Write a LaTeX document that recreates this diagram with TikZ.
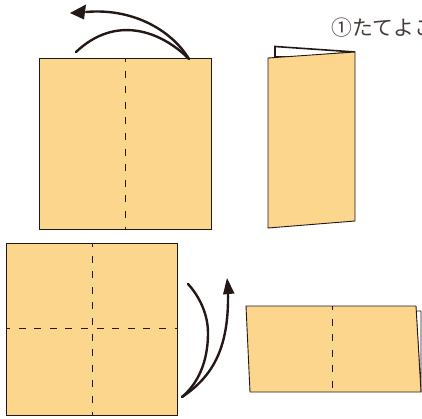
\documentclass[tikz,border=0pt]{standalone}
\usepackage{fontspec}
\newfontfamily\cjk{Noto Sans CJK JP}[Scale=1]
\usetikzlibrary{arrows.meta}
\definecolor{paper}{HTML}{FDD68E}
\definecolor{ink}{HTML}{231815}
\tikzset{
 sheet/.style={draw=ink,fill=paper,line width=0.9pt,line join=miter},
 back/.style={draw=ink,fill=white,line width=1.6pt,line join=miter},
 fold/.style={draw=ink,line width=0.9pt,dash pattern=on 7pt off 8.6pt,dash phase=3pt},
 curve/.style={draw=ink,line width=2.4pt,line cap=round}
}
\begin{document}
\begin{tikzpicture}[x=1pt,y=-1pt]
\useasboundingbox (0,0) rectangle (422,419);
\clip (0,0) rectangle (422,419);
% top-left square
\path[sheet] (39,58) rectangle (211,229);
\path[fold] (125,58) -- (125,229);
\path[curve] (189,59) .. controls (160,30) and (115,15) .. (76,52);
\path[curve] (189,59) .. controls (170,28) and (130,8) .. (86,12);
\path[fill=ink] (70,13) -- (86,4.5) -- (84,19.5) -- cycle;
% folded sheet top right
\path[back] (275,57) -- (275,46.5) -- (355,52) -- (300,57) -- cycle;
\path[sheet] (268,58) -- (355,52) -- (355,221) -- (268,228) -- cycle;
% bottom-left square
\path[sheet] (6,243) rectangle (177,415);
\path[fold] (92,243) -- (92,415);
\path[fold] (6,328) -- (177,328);
\path[curve] (182,397) .. controls (202,380) and (208,355) .. (208,333) .. controls (208,315) and (200,297) .. (188,284);
\path[curve] (182,397) .. controls (215,375) and (229,345) .. (228,292);
\path[fill=ink] (227,278) -- (234.5,293.5) -- (223,294.5) -- cycle;
% folded sheet bottom right
\path[draw=ink,fill=white,line width=0.9pt] (416,311) -- (421,311) -- (421,392) -- cycle;
\path[sheet] (246,306) -- (416,306) -- (421,392) -- (250,392) -- cycle;
\path[fold] (332,306) -- (332,392);
% caption
\node[anchor=base west,inner sep=0pt,text=ink!85] (caption) at (331,36) {\cjk\fontsize{20.8}{20.8}\selectfont ①たてよこ};
\end{tikzpicture}
\end{document}
